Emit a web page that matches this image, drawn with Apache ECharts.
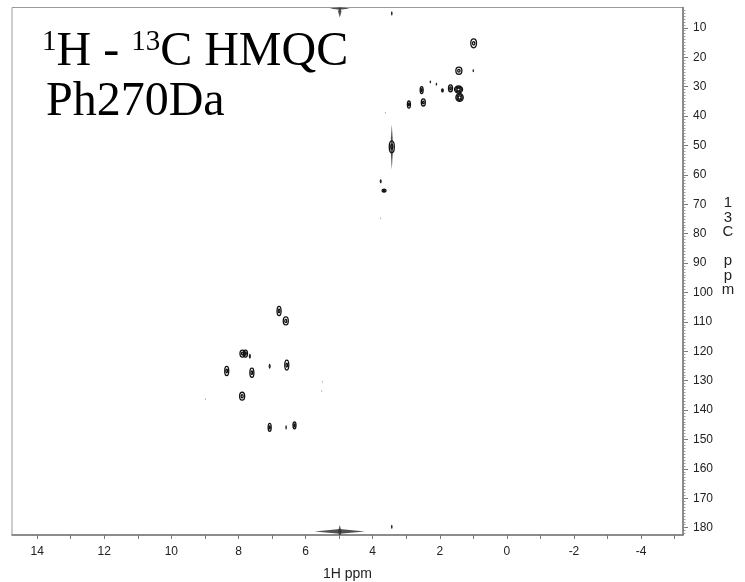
<!DOCTYPE html>
<html>
<head>
<meta charset="utf-8">
<script src="https://cdn.jsdelivr.net/npm/echarts@6/dist/echarts.min.js"></script>
<style>
  html, body { margin: 0; padding: 0; background: #fff; }
  #chart { width: 745px; height: 582px; }
</style>
</head>
<body>
<div id="chart"></div>
<script>
// ---- Data ----
// Cross peaks: 1H shift, 13C shift, 1H linewidth (ppm), 13C linewidth (ppm), contour levels
const peakH  = [0.99, 1.00, 1.43, 1.44, 1.41, 1.68, 1.92, 2.10, 2.28, 2.54, 2.49, 2.92, 3.62, 3.43, 3.76, 3.66, 3.76, 3.43, 3.43,
                6.79, 6.59, 7.88, 7.79, 7.66, 8.35, 7.60, 7.07, 6.56, 5.50, 5.52, 8.98, 7.89, 7.07, 6.58, 6.33];
const peakC  = [15.3, 24.6, 24.6, 31.0, 33.7, 30.6, 31.3, 29.2, 28.4, 31.2, 35.4, 36.1, 38.9, 50.5, 62.2, 65.4, 74.8, 5.1, 179.7,
                106.3, 109.7, 120.8, 120.8, 121.7, 126.7, 127.3, 125.1, 124.7, 130.4, 133.5, 136.3, 135.3, 145.9, 145.9, 145.2];
const peakWH = [0.17, 0.045, 0.18, 0.24, 0.22, 0.12, 0.09, 0.045, 0.045, 0.09, 0.12, 0.09, 0.03, 0.15, 0.06, 0.12, 0.03, 0.045, 0.045,
                0.12, 0.15, 0.15, 0.12, 0.06, 0.12, 0.12, 0.06, 0.12, 0.03, 0.03, 0.03, 0.15, 0.09, 0.045, 0.09];
const peakWC = [3.0, 1.0, 2.4, 2.4, 2.7, 2.4, 1.4, 1.0, 1.0, 2.4, 2.4, 2.4, 0.7, 4.1, 1.4, 1.0, 0.7, 1.4, 1.4,
                3.1, 2.7, 2.4, 2.4, 1.7, 3.1, 3.1, 1.7, 3.4, 0.7, 0.7, 0.7, 2.7, 2.7, 1.4, 2.4];
const peakLevel = [2, 1, 2, 3, 3, 2, 1, 1, 1, 2, 2, 2, 0, 2, 1, 2, 0, 1, 1,
                   2, 2, 2, 2, 1, 2, 2, 1, 2, 0, 0, 0, 2, 2, 1, 2];

// Ridges (t1 noise / solvent streaks): centre 1H, centre 13C, half extent 1H, half extent 13C
const ridgeH  = [3.43, 4.98, 4.98, 4.98, 4.98];
const ridgeC  = [50.5, 181.3, 181.3, 3.4, 4.5];
const ridgeDH = [0.04, 0.75, 0.05, 0.30, 0.05];
const ridgeDC = [7.7, 0.8, 2.2, 0.5, 2.0];

// Axis ticks and labels
const xLabels = [14, 12, 10, 8, 6, 4, 2, 0, -2, -4];
const xTicks = [14, 13, 12, 11, 10, 9, 8, 7, 6, 5, 4, 3, 2, 1, 0, -1, -2, -3, -4, -5];
const yLabels = [10, 20, 30, 40, 50, 60, 70, 80, 90, 100, 110, 120, 130, 140, 150, 160, 170, 180];
const yMinorTicks = [];
for (let v = 4; v <= 182; v++) yMinorTicks.push(v);

const xRange = [-5.25, 14.75];
const yRange = [3.1, 182.5];

// ---- Chart ----
const peakData = peakH.map((h, i) => [h, peakC[i], peakWH[i], peakWC[i], peakLevel[i]]);
const ridgeData = ridgeH.map((h, i) => [h, ridgeC[i], ridgeDH[i], ridgeDC[i]]);

const chart = echarts.init(document.getElementById('chart'), null, { renderer: 'canvas' });

const sansFont = 'Liberation Sans, Arial, Helvetica, sans-serif';
const serifFont = 'Liberation Serif, Times New Roman, serif';

const option = {
  backgroundColor: '#fff',
  animation: false,
  grid: { left: 12, right: 62, top: 7.5, bottom: 47, containLabel: false, outerBoundsMode: 'none',
          show: true, borderColor: '#9a9a9a', borderWidth: 1, backgroundColor: 'transparent' },
  xAxis: {
    type: 'value', inverse: true, min: xRange[0], max: xRange[1], position: 'bottom',
    axisLine: { show: true, onZero: false, lineStyle: { color: '#777', width: 1.5 } },
    axisTick: { show: true, customValues: xTicks, length: 4, lineStyle: { color: '#777', width: 1 } },
    axisLabel: { customValues: xLabels, color: '#222', fontSize: 12, fontFamily: sansFont, margin: 11 },
    splitLine: { show: false },
    name: '1H ppm', nameLocation: 'middle', nameGap: 32,
    nameTextStyle: { color: '#222', fontSize: 14, fontFamily: sansFont }
  },
  yAxis: [{
    type: 'value', inverse: true, min: yRange[0], max: yRange[1], position: 'right',
    axisLine: { show: true, onZero: false, lineStyle: { color: '#777', width: 1.5 } },
    axisTick: { show: true, customValues: yLabels, length: 5, lineStyle: { color: '#777', width: 1 } },
    axisLabel: { customValues: yLabels, color: '#222', fontSize: 12, fontFamily: sansFont, margin: 10 },
    splitLine: { show: false }
  }, {
    type: 'value', inverse: true, min: yRange[0], max: yRange[1], position: 'right',
    axisLine: { show: false, onZero: false },
    axisTick: { show: true, customValues: yMinorTicks, length: 2.5, lineStyle: { color: '#888', width: 0.8 } },
    axisLabel: { show: false },
    splitLine: { show: false }
  }],
  graphic: [
    {
      type: 'text', x: 42, y: 52,
      style: {
        text: '{s|1}{m|H - }{s|13}{m|C HMQC}',
        fill: '#000', verticalAlign: 'middle',
        rich: {
          m: { fontSize: 48, fontFamily: serifFont, lineHeight: 48, fill: '#000', verticalAlign: 'bottom' },
          s: { fontSize: 29, fontFamily: serifFont, lineHeight: 29, fill: '#000', verticalAlign: 'top' }
        }
      }
    },
    {
      type: 'text', x: 46, y: 102,
      style: { text: 'Ph270Da', fill: '#000', font: '48px ' + serifFont, verticalAlign: 'middle' }
    },
    {
      type: 'text', x: 728, y: 196,
      style: { text: '1\n3\nC\n\np\np\nm', fill: '#222', font: '15px ' + sansFont, align: 'center', verticalAlign: 'top', lineHeight: 14.5 }
    }
  ],
  series: [
    {
      type: 'custom', coordinateSystem: 'cartesian2d', xAxisIndex: 0, yAxisIndex: 0, clip: true,
      data: ridgeData,
      renderItem: function (params, api) {
        const c = api.coord([api.value(0), api.value(1)]);
        const s = api.size([api.value(2) * 2, api.value(3) * 2], [api.value(0), api.value(1)]);
        const rx = s[0] / 2, ry = s[1] / 2;
        return {
          type: 'polygon',
          shape: { points: [[c[0] - rx, c[1]], [c[0], c[1] - ry], [c[0] + rx, c[1]], [c[0], c[1] + ry]] },
          style: { fill: '#333', stroke: null, opacity: 0.85 }
        };
      }
    },
    {
      type: 'custom', coordinateSystem: 'cartesian2d', xAxisIndex: 0, yAxisIndex: 0, clip: true,
      data: peakData,
      renderItem: function (params, api) {
        const c = api.coord([api.value(0), api.value(1)]);
        const s = api.size([api.value(2), api.value(3)], [api.value(0), api.value(1)]);
        const rx = Math.max(s[0] / 2, 0.5), ry = Math.max(s[1] / 2, 0.8);
        const lvl = api.value(4);
        const children = [];
        if (lvl <= 1) {
          children.push({ type: 'ellipse', shape: { cx: c[0], cy: c[1], rx: rx, ry: ry },
            style: { fill: lvl === 0 ? '#aaaaaa' : '#222', stroke: null } });
        } else {
          for (let k = 0; k < lvl; k++) {
            const f = 1 - k * (0.6 / (lvl - 1));
            children.push({ type: 'ellipse', shape: { cx: c[0], cy: c[1], rx: Math.max(rx * f, 0.6), ry: Math.max(ry * f, 0.8) },
              style: { fill: null, stroke: '#111', lineWidth: 1.3 } });
          }
        }
        return { type: 'group', children: children };
      }
    }
  ]
};
chart.setOption(option);
</script>
</body>
</html>
